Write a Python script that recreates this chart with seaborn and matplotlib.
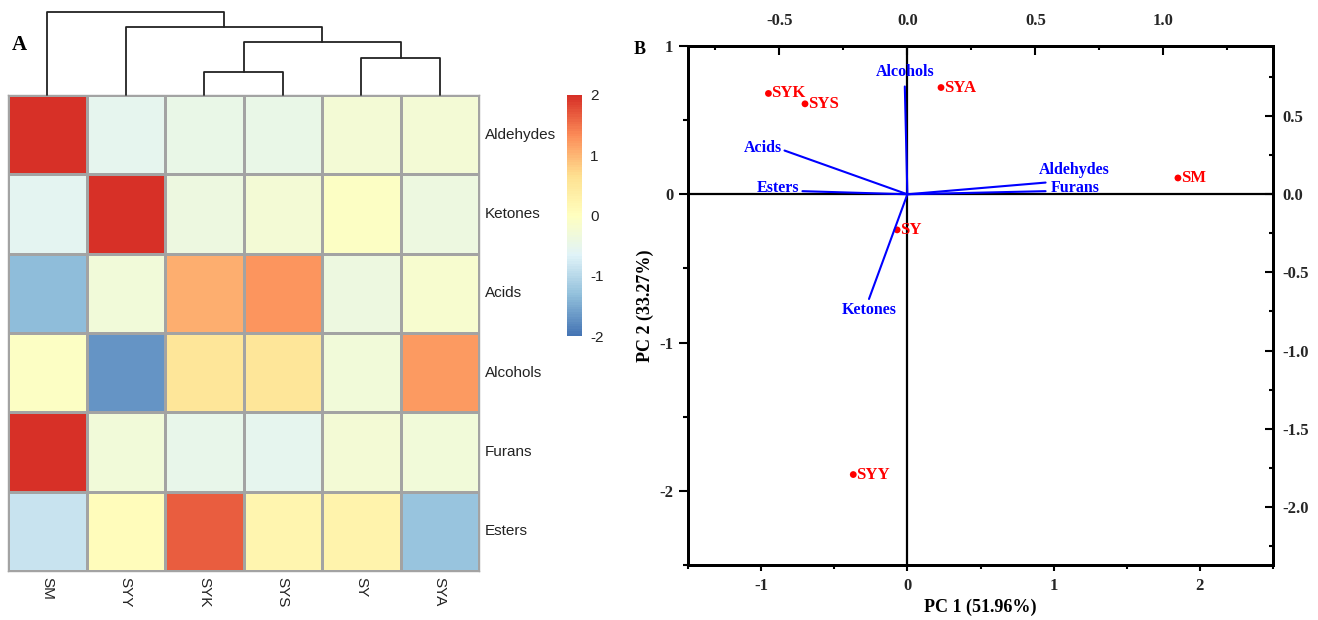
import numpy as np
import pandas as pd
import matplotlib
matplotlib.use('Agg')
import matplotlib.pyplot as plt
import seaborn as sns
from matplotlib.colors import LinearSegmentedColormap

# ---- panel A: row-scaled contents (heatmap) ----
compounds = ['Aldehydes', 'Ketones', 'Acids', 'Alcohols', 'Furans', 'Esters']
samples = ['SM', 'SYY', 'SYK', 'SYS', 'SY', 'SYA']
aldehydes = [2.00, -0.55, -0.45, -0.45, -0.25, -0.25]
ketones = [-0.60, 2.00, -0.40, -0.25, -0.08, -0.40]
acids = [-1.35, -0.30, 1.07, 1.27, -0.40, -0.20]
alcohols = [-0.05, -1.72, 0.55, 0.55, -0.30, 1.20]
furans = [2.00, -0.30, -0.50, -0.55, -0.25, -0.30]
esters = [-0.85, 0.05, 1.65, 0.20, 0.25, -1.25]

# column dendrogram: (left cluster, right cluster, merge height)
merges = [
    ('SYK', 'SYS', 1.4),
    ('SY', 'SYA', 2.2),
    ('SYK+SYS', 'SY+SYA', 3.2),
    ('SYY', 'SYK+SYS+SY+SYA', 4.1),
    ('SM', 'SYY+SYK+SYS+SY+SYA', 5.0),
]

# ---- panel B: PCA biplot ----
score_names = ['SYK', 'SYS', 'SYA', 'SM', 'SY', 'SYY']
pc1_scores = [-0.95, -0.70, 0.23, 1.85, -0.07, -0.37]
pc2_scores = [0.68, 0.61, 0.72, 0.11, -0.24, -1.89]
loading_names = ['Alcohols', 'Acids', 'Esters', 'Aldehydes', 'Furans', 'Ketones']
pc1_loadings = [-0.01, -0.48, -0.41, 0.54, 0.54, -0.15]
pc2_loadings = [0.69, 0.28, 0.02, 0.075, 0.02, -0.67]

# label placement for loadings: (dx, dy in points, ha, va)
load_label_pos = {
    'Alcohols': (0, 5, 'center', 'bottom'),
    'Acids': (-2, 2, 'right', 'center'),
    'Esters': (-2, 2, 'right', 'center'),
    'Aldehydes': (-5, 3, 'left', 'bottom'),
    'Furans': (4, 2, 'left', 'center'),
    'Ketones': (0, -2, 'center', 'top'),
}

sns.set_theme(style='white')
plt.rcParams['font.family'] = ['Liberation Sans', 'DejaVu Sans']
plt.rcParams['axes.unicode_minus'] = False

W, H = 1318, 620
fig = plt.figure(figsize=(W / 100, H / 100), dpi=100)


def px_axes(left, top, right, bottom):
    return fig.add_axes([left / W, 1 - bottom / H, (right - left) / W, (bottom - top) / H])


ax_heat = px_axes(8, 95, 479, 571)
ax_dend = px_axes(8, 11.7, 479, 95)
ax_cbar = px_axes(567, 95, 582, 336)
ax_pca = px_axes(688, 46, 1273, 565)

# ---------- heatmap ----------
heat_df = pd.DataFrame([aldehydes, ketones, acids, alcohols, furans, esters],
                       index=compounds, columns=samples)
cmap = LinearSegmentedColormap.from_list(
    'pheat', ['#4575B4', '#91BFDB', '#E0F3F8', '#FFFFBF', '#FEE090', '#FC8D59', '#D73027'], N=100)
sns.heatmap(heat_df, ax=ax_heat, cmap=cmap, vmin=-2, vmax=2, linewidths=1,
            linecolor='#a3a3a3', cbar_ax=ax_cbar, cbar_kws={'ticks': [-2, -1, 0, 1, 2]})
ax_heat.yaxis.tick_right()
ax_heat.tick_params(length=0, labelsize=11, pad=4, colors='#222222')
plt.setp(ax_heat.get_yticklabels(), rotation=0, va='center', ha='left')
plt.setp(ax_heat.get_xticklabels(), rotation=270, ha='center', va='top')
for sp in ax_heat.spines.values():
    sp.set_visible(True)
    sp.set_color('#a3a3a3')
    sp.set_linewidth(1)

cbar = ax_heat.collections[0].colorbar
cbar.outline.set_visible(False)
cbar.ax.tick_params(length=0, labelsize=11, pad=6, colors='#222222')

# ---------- dendrogram ----------
pos = {s: i + 0.5 for i, s in enumerate(samples)}
hgt = {s: 0.0 for s in samples}
for left, right, h in merges:
    x0, x1 = pos[left], pos[right]
    ax_dend.plot([x0, x0, x1, x1], [hgt[left], h, h, hgt[right]],
                 color='#222222', lw=1.3, clip_on=False)
    key = left + '+' + right
    pos[key] = (x0 + x1) / 2
    hgt[key] = h
ax_dend.set_xlim(0, len(samples))
ax_dend.set_ylim(0, max(m[2] for m in merges))
ax_dend.axis('off')

# ---------- PCA biplot ----------
serif = dict(fontfamily=['Liberation Serif', 'DejaVu Serif'], fontweight='bold')

ax_pca.axhline(0, color='black', lw=1.6, zorder=1)
ax_pca.axvline(0, color='black', lw=1.6, zorder=1)
sns.scatterplot(x=pc1_scores, y=pc2_scores, ax=ax_pca, color='red', s=24,
                edgecolor='none', zorder=5)
for name, x, y in zip(score_names, pc1_scores, pc2_scores):
    ax_pca.annotate(name, (x, y), xytext=(2, 0), textcoords='offset points',
                    ha='left', va='center', color='red', fontsize=12, **serif)

ax_pca.set_xlim(-1.5, 2.5)
ax_pca.set_ylim(-2.5, 1)
xt = [-1, 0, 1, 2]
yt = [-2, -1, 0, 1]
ax_pca.set_xticks(xt, [f'{v:g}' for v in xt], fontsize=12, **serif)
ax_pca.set_yticks(yt, [f'{v:g}' for v in yt], fontsize=12, **serif)
ax_pca.set_xticks(np.arange(-1.5, 2.51, 0.5), minor=True)
ax_pca.set_yticks(np.arange(-2.5, 1.01, 0.5), minor=True)
ax_pca.tick_params(which='both', direction='out', width=1.5, color='black',
                   bottom=True, left=True, top=False, right=False)
ax_pca.tick_params(axis='x', which='major', length=4, pad=5)
ax_pca.tick_params(axis='x', which='minor', length=3)
ax_pca.tick_params(axis='y', which='major', length=6.5, pad=4)
ax_pca.tick_params(axis='y', which='minor', length=3.5)
ax_pca.set_xlabel('PC 1 (51.96%)', fontsize=13, labelpad=4, color='black', **serif)
ax_pca.set_ylabel('PC 2 (33.27%)', fontsize=13, labelpad=4, color='black', **serif)

# loadings on top / right axes
x_ratio = 1.75
y_ratio = 0.949
ax_top = ax_pca.twiny()
ax_load = ax_top.twinx()
ax_top.set_xlim(-1.5 / x_ratio, 2.5 / x_ratio)
ax_load.set_ylim(-2.5 * y_ratio, 1 * y_ratio)

for name, x, y in zip(loading_names, pc1_loadings, pc2_loadings):
    ax_load.plot([0, x], [0, y], color='blue', lw=1.5, zorder=4)
    dx, dy, ha, va = load_label_pos[name]
    ax_load.annotate(name, (x, y), xytext=(dx, dy), textcoords='offset points',
                     ha=ha, va=va, color='blue', fontsize=11.5, **serif)

tx = [-0.5, 0.0, 0.5, 1.0]
ty = [-2.0, -1.5, -1.0, -0.5, 0.0, 0.5]
ax_top.set_xticks(tx, [f'{v:.1f}' for v in tx], fontsize=12, **serif)
ax_top.set_xticks(np.arange(-0.75, 1.26, 0.25), minor=True)
ax_load.set_yticks(ty, [f'{v:.1f}' for v in ty], fontsize=12, **serif)
ax_load.set_yticks(np.arange(-2.25, 0.76, 0.25), minor=True)
ax_top.tick_params(axis='x', which='both', direction='in', width=1.5, color='black',
                   top=True, labeltop=True, bottom=False, labelbottom=False)
ax_top.tick_params(axis='x', which='major', length=6.5, pad=12)
ax_top.tick_params(axis='x', which='minor', length=3)
ax_load.tick_params(axis='y', which='both', direction='in', width=1.5, color='black',
                    right=True, labelright=True, left=False, labelleft=False)
ax_load.tick_params(axis='y', which='major', length=6, pad=7)
ax_load.tick_params(axis='y', which='minor', length=3)

for a in (ax_pca, ax_top, ax_load):
    for sp in a.spines.values():
        sp.set_visible(True)
        sp.set_color('black')
        sp.set_linewidth(2)

# panel letters
fig.text(19 / W, 1 - 45 / H, 'A', fontsize=15, ha='center', va='center', color='black', **serif)
fig.text(640 / W, 1 - 49 / H, 'B', fontsize=13, ha='center', va='center', color='black', **serif)

fig.savefig('out.png', dpi=100)
